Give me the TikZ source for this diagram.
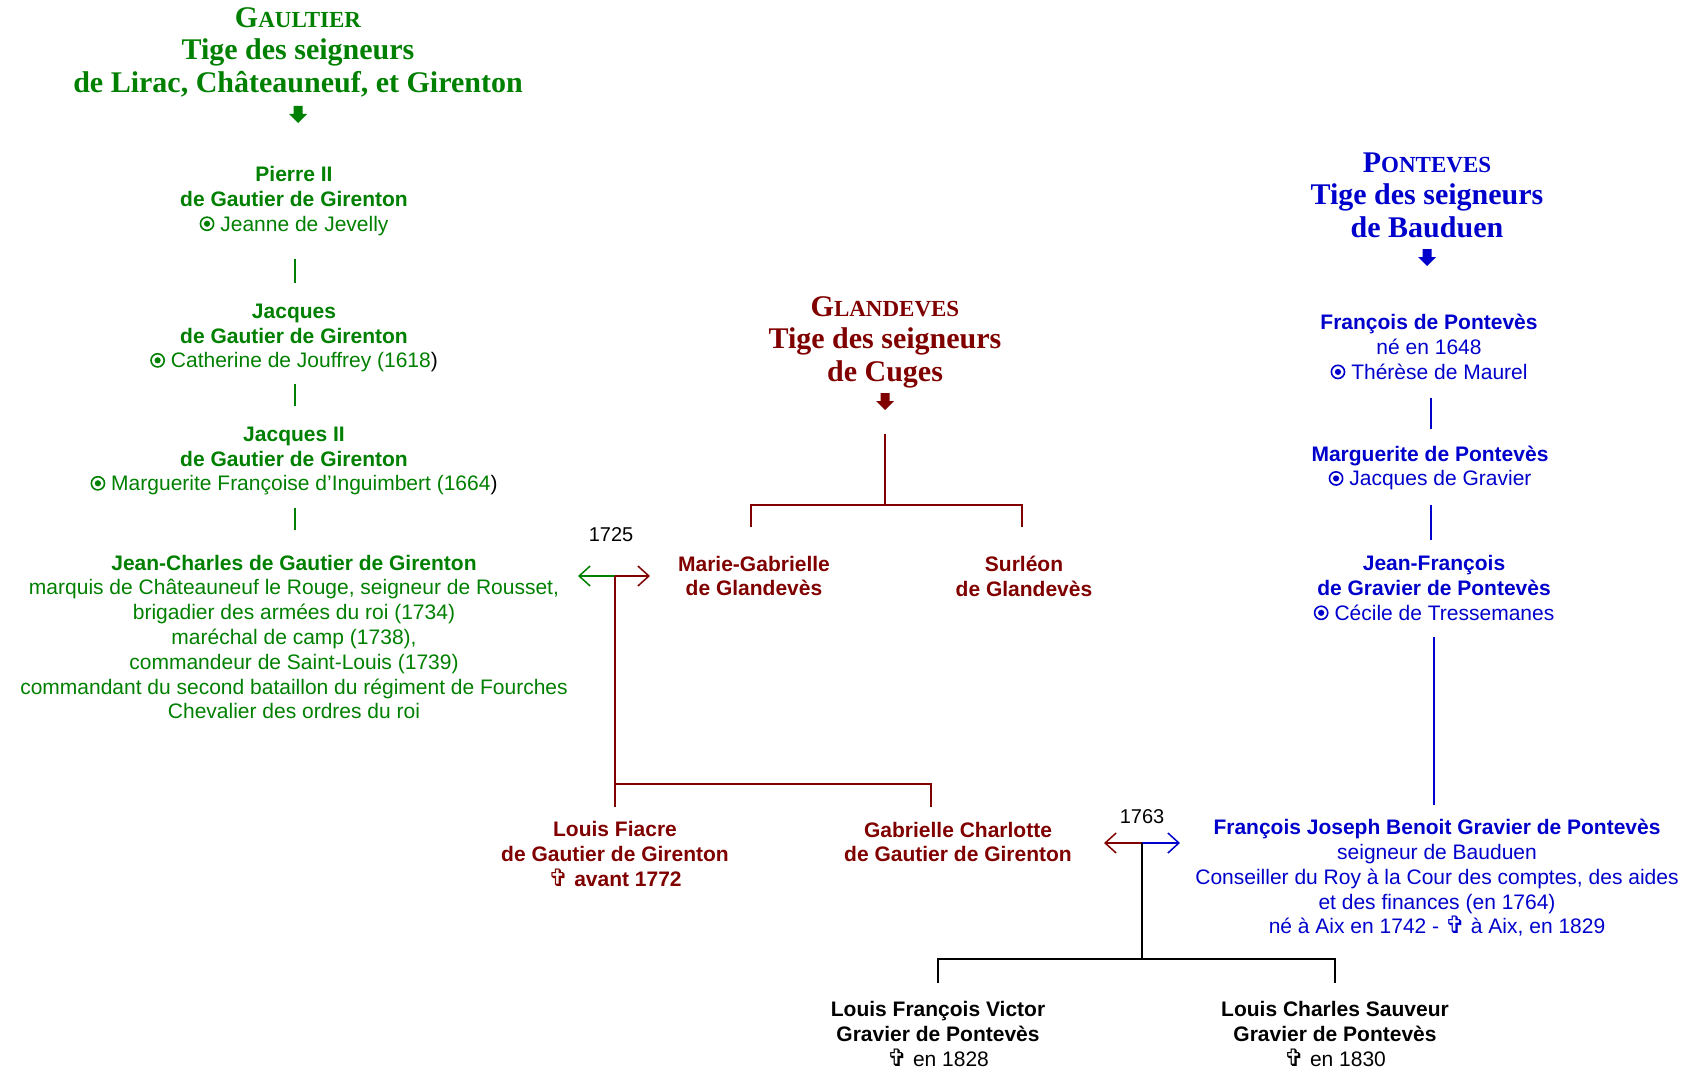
\documentclass[tikz,border=0pt]{standalone}
\usepackage{fontspec}
\setmainfont{Liberation Sans}
\newfontfamily\hdrfont{Liberation Serif}
\newfontfamily\symfont{DejaVu Sans}
\usetikzlibrary{arrows.meta}
\definecolor{cgreen}{HTML}{008000}
\definecolor{cred}{HTML}{800000}
\definecolor{cblue}{HTML}{0000CC}
% circled bullet (no installed family has U+29BF): drawn as a shape
\newcommand\marsym{\tikz[x=1pt,y=1pt,baseline=0pt]{\path (0,0) rectangle (15,1); \draw[line width=1.6pt,color=.] (7.5,7.5) circle (6.6); \fill[color=.] (7.5,7.5) circle (3.1);}}
\newcommand\crosssym{{\symfont\bfseries\fontsize{24}{21}\selectfont ✞}}
\newcommand\blkparen{\textcolor{black}{)}}
\newcommand\fakesc[2]{{\fontsize{30}{32.4}\selectfont #1}{\fontsize{23}{32.4}\selectfont #2}}
\begin{document}
\begin{tikzpicture}[x=1pt,y=-1pt,
  txt/.style={align=center,inner sep=0pt,font=\fontsize{21}{24.8}\selectfont},
  hdr/.style={align=center,inner sep=0pt,font=\hdrfont\bfseries\fontsize{30}{32.4}\selectfont},
  yearlbl/.style={inner sep=0pt,font=\fontsize{20}{24}\selectfont},
  conn/.style={line width=1.5pt},
  mtip/.style={-{Straight Barb[length=11pt,width=20pt,line width=1.5pt]}},
  barrow/.pic={\fill (-4.5,-9) -- (4.5,-9) -- (4.5,-1) -- (9,-1) -- (0,8) -- (-9,-1) -- (-4.5,-1) -- cycle;}
]
\useasboundingbox (0,0) rectangle (1694,1070);
\fill[white] (0,0) rectangle (1694,1070);

% headers
\node[hdr,text=cgreen] (hgaultier) at (298,52) {\fakesc{G}{AULTIER}\\Tige des seigneurs\\de Lirac, Châteauneuf, et Girenton};
\pic[cgreen] (agaultier) at (298,115) {barrow};
\node[hdr,text=cred] (hglandeves) at (885,342) {\fakesc{G}{LANDEVES}\\Tige des seigneurs\\de Cuges};
\pic[cred] (aglandeves) at (885,402) {barrow};
\node[hdr,text=cblue] (hponteves) at (1427,195) {\fakesc{P}{ONTEVES}\\Tige des seigneurs\\de Bauduen};
\pic[cblue] (aponteves) at (1427,258) {barrow};

% Gautier line
\node[txt,text=cgreen] (pierre) at (294,201) {\textbf{Pierre II}\\\textbf{de Gautier de Girenton}\\\marsym\ Jeanne de Jevelly};
\node[txt,text=cgreen] (jacques) at (294,338) {\textbf{Jacques}\\\textbf{de Gautier de Girenton}\\\marsym\ Catherine de Jouffrey (1618\blkparen};
\node[txt,text=cgreen] (jacques2) at (294,461) {\textbf{Jacques II}\\\textbf{de Gautier de Girenton}\\\marsym\ Marguerite Françoise d’Inguimbert (1664\blkparen};
\node[txt,text=cgreen] (jeanch) at (294,637) {\textbf{Jean-Charles de Gautier de Girenton}\\marquis de Châteauneuf le Rouge, seigneur de Rousset,\\brigadier des armées du roi (1734)\\maréchal de camp (1738),\\commandeur de Saint-Louis (1739)\\commandant du second bataillon du régiment de Fourches\\Chevalier des ordres du roi};

% Glandeves children
\node[txt,text=cred,font=\bfseries\fontsize{21}{24.8}\selectfont] (mariegab) at (754,576) {Marie-Gabrielle\\de Glandevès};
\node[txt,text=cred,font=\bfseries\fontsize{21}{24.8}\selectfont] (surleon) at (1024,576) {Surléon\\de Glandevès};
\node[txt,text=cred,font=\bfseries\fontsize{21}{24.8}\selectfont] (louisfiacre) at (615,854) {Louis Fiacre\\de Gautier de Girenton\\\crosssym\ avant 1772};
\node[txt,text=cred,font=\bfseries\fontsize{21}{24.8}\selectfont] (gabch) at (958,842) {Gabrielle Charlotte\\de Gautier de Girenton};

% Ponteves line
\node[txt,text=cblue] (francois) at (1429,347) {\textbf{François de Pontevès}\\né en 1648\\\marsym\ Thérèse de Maurel};
\node[txt,text=cblue] (marguerite) at (1430,468) {\textbf{Marguerite de Pontevès}\\\marsym\ Jacques de Gravier};
\node[txt,text=cblue] (jeanfr) at (1434,588) {\textbf{Jean-François}\\\textbf{de Gravier de Pontevès}\\\marsym\ Cécile de Tressemanes};
\node[txt,text=cblue] (fjb) at (1437,878) {\textbf{François Joseph Benoit Gravier de Pontevès}\\seigneur de Bauduen\\Conseiller du Roy à la Cour des comptes, des aides\\et des finances (en 1764)\\né à Aix en 1742 - \crosssym\ à Aix, en 1829};

% last generation
\node[txt] (lfv) at (938,1034) {\textbf{Louis François Victor}\\\textbf{Gravier de Pontevès}\\\crosssym\ en 1828};
\node[txt] (lcs) at (1335,1034) {\textbf{Louis Charles Sauveur}\\\textbf{Gravier de Pontevès}\\\crosssym\ en 1830};

% year labels
\node[yearlbl] (y1725) at (611,535) {1725};
\node[yearlbl] (y1763) at (1142,817) {1763};

% coordinates
\coordinate (g1a) at (295,259); \coordinate (g1b) at (295,283);
\coordinate (g2a) at (295,384); \coordinate (g2b) at (295,406);
\coordinate (g3a) at (295,508); \coordinate (g3b) at (295,530);
\coordinate (b1a) at (1431,398); \coordinate (b1b) at (1431,429);
\coordinate (b2a) at (1431,505); \coordinate (b2b) at (1431,540);
\coordinate (b3a) at (1434,637); \coordinate (b3b) at (1434,805);
\coordinate (gl0) at (885,434); \coordinate (gl1) at (885,505);
\coordinate (gl2) at (751,505); \coordinate (gl3) at (751,527);
\coordinate (gl4) at (1022,505); \coordinate (gl5) at (1022,527);
\coordinate (m1) at (615,576); \coordinate (m1l) at (578,576); \coordinate (m1r) at (650,576);
\coordinate (m1d) at (615,807); \coordinate (m1h) at (615,784);
\coordinate (gc1) at (931,784); \coordinate (gc2) at (931,807);
\coordinate (m2) at (1142,843); \coordinate (m2l) at (1104,843); \coordinate (m2r) at (1180,843);
\coordinate (m2d) at (1142,959);
\coordinate (k1) at (938,959); \coordinate (k2) at (938,983);
\coordinate (k3) at (1335,959); \coordinate (k4) at (1335,983);

% connectors
\draw[conn,cgreen] (g1a) -- (g1b);
\draw[conn,cgreen] (g2a) -- (g2b);
\draw[conn,cgreen] (g3a) -- (g3b);
\draw[conn,cblue] (b1a) -- (b1b);
\draw[conn,cblue] (b2a) -- (b2b);
\draw[conn,cblue] (b3a) -- (b3b);
\draw[conn,cred] (gl0) -- (gl1);
\draw[conn,cred] (gl3) -- (gl2) -- (gl4) -- (gl5);
\draw[conn,cgreen,mtip] (m1) -- (m1l);
\draw[conn,cred,mtip] (m1) -- (m1r);
\draw[conn,cred] (m1) -- (m1d);
\draw[conn,cred] (m1h) -- (gc1) -- (gc2);
\draw[conn,cred,mtip] (m2) -- (m2l);
\draw[conn,cblue,mtip] (m2) -- (m2r);
\draw[conn,black] (m2) -- (m2d);
\draw[conn,black] (k2) -- (k1) -- (k3) -- (k4);
\end{tikzpicture}
\end{document}
